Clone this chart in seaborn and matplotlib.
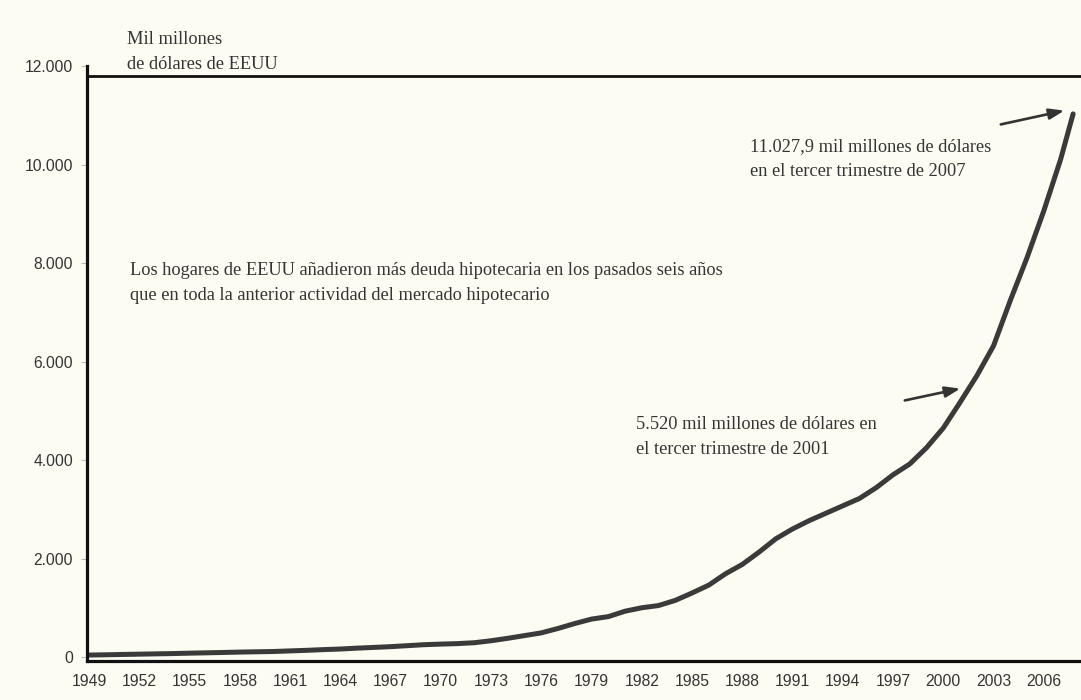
import matplotlib
matplotlib.use("Agg")
import matplotlib.pyplot as plt
from matplotlib.ticker import FuncFormatter
import seaborn as sns
import pandas as pd

# ---- data ----
years = [1949, 1950, 1951, 1952, 1953, 1954, 1955, 1956, 1957, 1958,
         1959, 1960, 1961, 1962, 1963, 1964, 1965, 1966, 1967, 1968,
         1969, 1970, 1971, 1972, 1973, 1974, 1975, 1976, 1977, 1978,
         1979, 1980, 1981, 1982, 1983, 1984, 1985, 1986, 1987, 1988,
         1989, 1990, 1991, 1992, 1993, 1994, 1995, 1996, 1997, 1998,
         1999, 2000, 2001, 2002, 2003, 2004, 2005, 2006, 2007, 2007.75]
debt = [40, 45, 52, 58, 64, 70, 78, 85, 92, 100,
        106, 112, 124, 136, 150, 162, 180, 195, 210, 230,
        250, 262, 272, 290, 330, 380, 435, 490, 580, 680,
        770, 820, 930, 1000, 1045, 1150, 1300, 1460, 1690, 1880,
        2130, 2400, 2600, 2770, 2920, 3070, 3220, 3440, 3700, 3920,
        4250, 4650, 5170, 5710, 6320, 7240, 8110, 9060, 10100, 11027.9]
y_ticks = [0, 2000, 4000, 6000, 8000, 10000, 12000]
x_ticks = list(range(1949, 2007, 3))

unit_label = "Mil millones\nde dólares de EEUU"
main_note = ("Los hogares de EEUU añadieron más deuda hipotecaria en los pasados seis años\n"
             "que en toda la anterior actividad del mercado hipotecario")
note_2007 = "11.027,9 mil millones de dólares\nen el tercer trimestre de 2007"
note_2001 = "5.520 mil millones de dólares en\nel tercer trimestre de 2001"

df = pd.DataFrame({"year": years, "debt": debt})

# ---- style ----
sns.set_style("white")
plt.rcParams["font.family"] = ["Liberation Sans", "DejaVu Sans"]
bg = "#fcfcf3"
ink = "#343434"
serif = ["Liberation Serif", "DejaVu Serif"]
fs_serif = 13.2
lsp = 1.65

W, H = 1081, 700
fig = plt.figure(figsize=(W / 100, H / 100), dpi=100, facecolor=bg)
L, R, B, T = 87, 1081, 661, 66
ax = fig.add_axes([L / W, 1 - B / H, (R - L) / W, (B - T) / H])
ax.set_facecolor(bg)

sns.lineplot(data=df, x="year", y="debt", ax=ax, color="#3a3a3a",
             linewidth=3.6, solid_capstyle="round", solid_joinstyle="round")

ax.set_xlim(1948.88, 2008.22)
ax.set_ylim(-81, 12000)
ax.set_xlabel("")
ax.set_ylabel("")

ax.set_yticks(y_ticks)
ax.yaxis.set_major_formatter(FuncFormatter(lambda v, p: f"{int(v):,}".replace(",", ".")))
ax.set_xticks(x_ticks)
ax.set_xticklabels([str(y) for y in x_ticks])
ax.tick_params(axis="y", length=4, width=0.8, color="#bbbbbb", pad=6,
               labelsize=11.3, labelcolor=ink, left=True)
ax.tick_params(axis="x", length=0, pad=9, labelsize=11.3, labelcolor=ink)

for s in ["top", "right"]:
    ax.spines[s].set_visible(False)
for s in ["left", "bottom"]:
    ax.spines[s].set_color("#111111")
    ax.spines[s].set_linewidth(2.3)
# top frame of the box (drawn slightly below the 12.000 tick, as in the scan)
ax.axhline(11800, color="#111111", linewidth=2.0)

# ---- texts ----
fig.text(127 / W, 1 - 52 / H, unit_label, family=serif, fontsize=fs_serif,
         color=ink, va="center", ha="left", linespacing=lsp)

def px_to_data(x, y):
    return 1949 + (x - 89) / 16.75, (657 - y) / 0.04925

tx, ty = px_to_data(130, 283)
ax.text(tx, ty, main_note, family=serif, fontsize=fs_serif, color=ink,
        va="center", ha="left", linespacing=lsp)
tx, ty = px_to_data(750, 159)
ax.text(tx, ty, note_2007, family=serif, fontsize=fs_serif, color=ink,
        va="center", ha="left", linespacing=lsp)
tx, ty = px_to_data(636, 437)
ax.text(tx, ty, note_2001, family=serif, fontsize=fs_serif, color=ink,
        va="center", ha="left", linespacing=lsp)

arrow = dict(arrowstyle="-|>,head_length=0.9,head_width=0.32", color="#333333", lw=1.9)
ax.annotate("", xy=px_to_data(1067, 110), xytext=px_to_data(998, 125), arrowprops=arrow)
ax.annotate("", xy=px_to_data(963, 388), xytext=px_to_data(902, 401), arrowprops=arrow)

fig.savefig("out.png", dpi=100, facecolor=bg)
